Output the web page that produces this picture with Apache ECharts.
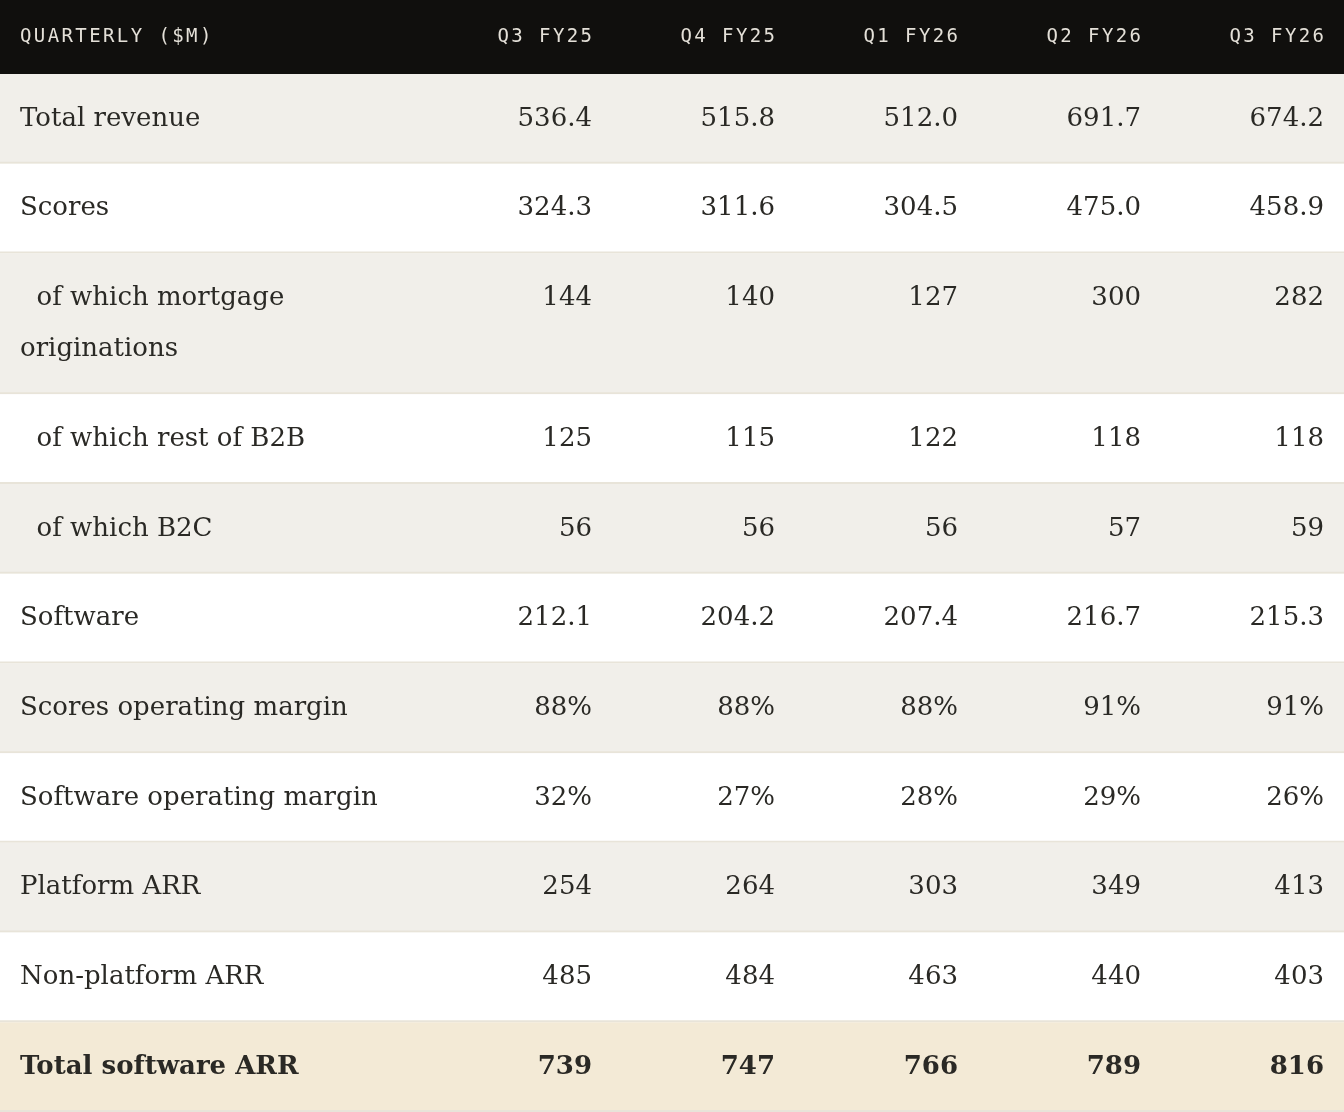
<!DOCTYPE html>
<html><head><meta charset="utf-8">
<script src="https://cdn.jsdelivr.net/npm/echarts@6/dist/echarts.min.js"></script>
<style>html,body{margin:0;padding:0;background:#fff}#c{width:1344px;height:1112px}</style>
</head><body><div id="c"></div>
<script>
// ---- data ----
const headerTitle = 'QUARTERLY ($M)';
const quarters = ['Q3 FY25', 'Q4 FY25', 'Q1 FY26', 'Q2 FY26', 'Q3 FY26'];
const rowLabels = [
  'Total revenue',
  'Scores',
  '\u00a0\u00a0of which mortgage\noriginations',
  '\u00a0\u00a0of which rest of B2B',
  '\u00a0\u00a0of which B2C',
  'Software',
  'Scores operating margin',
  'Software operating margin',
  'Platform ARR',
  'Non-platform ARR',
  'Total software ARR'
];
const totalRevenue = [536.4, 515.8, 512.0, 691.7, 674.2];
const scores = [324.3, 311.6, 304.5, 475.0, 458.9];
const mortgageOriginations = [144, 140, 127, 300, 282];
const restOfB2B = [125, 115, 122, 118, 118];
const b2c = [56, 56, 56, 57, 59];
const software = [212.1, 204.2, 207.4, 216.7, 215.3];
const scoresOperatingMargin = [88, 88, 88, 91, 91];
const softwareOperatingMargin = [32, 27, 28, 29, 26];
const platformARR = [254, 264, 303, 349, 413];
const nonPlatformARR = [485, 484, 463, 440, 403];
const totalSoftwareARR = [739, 747, 766, 789, 816];
const decimals = [1, 1, 0, 0, 0, 1, 0, 0, 0, 0, 0];
const suffixes = ['', '', '', '', '', '', '%', '%', '', '', ''];

// ---- layout / style ----
const seriesValues = [totalRevenue, scores, mortgageOriginations, restOfB2B, b2c, software,
  scoresOperatingMargin, softwareOperatingMargin, platformARR, nonPlatformARR, totalSoftwareARR];
const PX_PER_UNIT_X = 183;
const X_MAX = 1344 / PX_PER_UNIT_X;
const LABEL_X = 20 / PX_PER_UNIT_X;
const FIRST_VALUE_RIGHT = 592 / PX_PER_UNIT_X;
const HEADER_H = 0.825;
const PAD = 0.215;
const LINE_H = 0.57;
const rows = rowLabels.map((label, i) => {
  const lines = label.split('\n').length;
  return {
    label,
    values: seriesValues[i].map(v => v.toFixed(decimals[i]) + suffixes[i]),
    h: PAD * 2 + LINE_H * lines,
    bg: i === rowLabels.length - 1 ? '#f3ead6' : (i % 2 === 0 ? '#f1efea' : '#ffffff'),
    bold: i === rowLabels.length - 1
  };
});
let acc = HEADER_H;
rows.forEach(r => { r.top = acc; acc += r.h; r.bottom = acc; });
const Y_MAX = acc;

const SERIF = '"DejaVu Serif", serif';
const MONO = '"DejaVu Sans Mono", monospace';
const TEXT = '#2a2925';
const HEAD_FS = 19, HEAD_SP = 2.4;

function spacedText(str, xRight, xLeft, y) {
  const pitch = HEAD_FS * 0.602 + HEAD_SP;
  const w = str.length * pitch - HEAD_SP;
  const start = xRight != null ? xRight - w : xLeft;
  const out = [];
  for (let k = 0; k < str.length; k++) {
    if (str[k] === ' ') continue;
    out.push({ type: 'text', style: { text: str[k], x: start + k * pitch, y, fill: '#e4e0d8',
      font: '500 ' + HEAD_FS + 'px ' + MONO, align: 'left', verticalAlign: 'middle' } });
  }
  return out;
}

const chart = echarts.init(document.getElementById('c'), null, { renderer: 'canvas' });
chart.setOption({
  animation: false,
  grid: { left: 0, right: 0, top: 0, bottom: 0 },
  xAxis: { type: 'value', min: 0, max: X_MAX, show: false },
  yAxis: { type: 'value', min: 0, max: Y_MAX, inverse: true, show: false },
  series: [
    {
      type: 'custom',
      silent: true,
      data: [[0, HEADER_H]],
      renderItem: function (params, api) {
        const a = api.coord([0, api.value(0)]);
        const b = api.coord([X_MAX, api.value(1)]);
        const yc = (a[1] + b[1]) / 2;
        const children = [{ type: 'rect', shape: { x: a[0], y: a[1], width: b[0] - a[0], height: b[1] - a[1] }, style: { fill: '#100f0d' } }];
        const lx = api.coord([LABEL_X, 0])[0];
        children.push(...spacedText(headerTitle, null, lx, yc));
        quarters.forEach((q, j) => {
          const xr = api.coord([FIRST_VALUE_RIGHT + j, 0])[0];
          children.push(...spacedText(q, xr, null, yc));
        });
        return { type: 'group', children };
      }
    },
    {
      type: 'custom',
      silent: true,
      data: rows.map((r, i) => [r.top, r.bottom, i]),
      renderItem: function (params, api) {
        const r = rows[api.value(2)];
        const a = api.coord([0, api.value(0)]);
        const b = api.coord([X_MAX, api.value(1)]);
        const textTop = api.coord([0, r.top + PAD])[1];
        const lineH = api.coord([0, LINE_H])[1] - api.coord([0, 0])[1];
        const font = (r.bold ? 'bold ' : '') + '26px ' + SERIF;
        const children = [
          { type: 'rect', shape: { x: a[0], y: a[1], width: b[0] - a[0], height: b[1] - a[1] }, style: { fill: r.bg } },
          { type: 'rect', shape: { x: a[0], y: b[1] - 2, width: b[0] - a[0], height: 2 }, style: { fill: '#e8e4d9' } },
          { type: 'text', style: { text: r.label, x: api.coord([LABEL_X, 0])[0], y: textTop, fill: TEXT, font,
            align: 'left', verticalAlign: 'top', lineHeight: lineH } }
        ];
        r.values.forEach((v, j) => {
          children.push({ type: 'text', style: { text: v, x: api.coord([FIRST_VALUE_RIGHT + j, 0])[0], y: textTop,
            fill: TEXT, font, align: 'right', verticalAlign: 'top', lineHeight: lineH } });
        });
        return { type: 'group', children };
      }
    }
  ]
});
</script>
</body></html>
